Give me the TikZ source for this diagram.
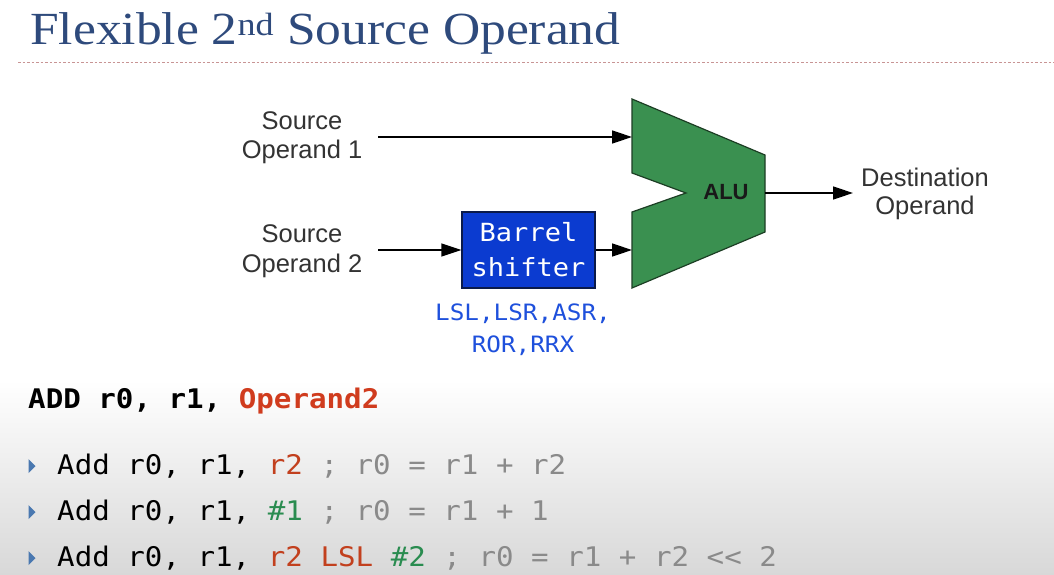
\documentclass[tikz,border=0pt]{standalone}
\usepackage{fontspec}
\setmainfont{Liberation Serif}
\setsansfont{Liberation Sans}
\newfontfamily\titlefont[FakeStretch=1.12]{Liberation Serif}
\newfontfamily\codefont[FakeStretch=1.08]{DejaVu Sans Mono}
\usetikzlibrary{arrows.meta}

\definecolor{titleblue}{HTML}{2E4A7C}
\definecolor{rulered}{HTML}{C89494}
\definecolor{labelgray}{HTML}{333333}
\definecolor{alugreen}{HTML}{3A9050}
\definecolor{aluedge}{HTML}{1C3E24}
\definecolor{shiftblue}{HTML}{0B3BD0}
\definecolor{shiftedge}{HTML}{0A1A4A}
\definecolor{opblue}{HTML}{1E50DC}
\definecolor{opred}{HTML}{D03C1E}
\definecolor{regred}{HTML}{C2401E}
\definecolor{immgreen}{HTML}{2A8C50}
\definecolor{commentgray}{HTML}{8A8A8A}
\definecolor{bulletblue}{HTML}{4A78B0}
\definecolor{shadegray}{HTML}{D8D8D8}

\begin{document}
\begin{tikzpicture}[x=1pt,y=-1pt,
  wire/.style={line width=1.4pt, -{Triangle[length=20pt,width=13pt]}},
  srclabel/.style={font=\sffamily\fontsize{25.5}{29.5}\selectfont, text=labelgray, align=center, inner sep=0pt},
  dstlabel/.style={font=\sffamily\fontsize{25.5}{28}\selectfont, text=labelgray, align=center, inner sep=0pt},
  shifterbox/.style={draw=shiftedge, line width=1.2pt, fill=shiftblue, text=white,
    minimum width=133pt, minimum height=76pt, inner sep=0pt, align=center,
    font=\codefont\fontsize{25}{35}\selectfont},
  oplist/.style={font=\codefont\fontsize{22.5}{32}\selectfont, text=opblue, align=center, inner sep=0pt},
  codeline/.style={anchor=base west, inner sep=0pt, font=\codefont\fontsize{27}{30}\selectfont},
  bullet/.style={fill=bulletblue},
]
\useasboundingbox (0,0) rectangle (1054,575);

% page background: white, fading to grey towards the bottom
\fill[white] (0,0) rectangle (1054,575);
\shade[top color=white, bottom color=shadegray] (0,380) rectangle (1054,575);

% title and dotted rule
\node[anchor=base west, inner sep=0pt, text=titleblue, font=\titlefont\fontsize{46}{50}\selectfont]
  (title) at (30,45) {Flexible 2\textsuperscript{nd} Source Operand};
\draw[rulered, line width=0.9pt, dash pattern=on 2.5pt off 2pt] (18,62) -- (1054,62);

% ALU outline
\coordinate (alu-tl) at (632,99);
\coordinate (alu-tr) at (765,155);
\coordinate (alu-br) at (765,232);
\coordinate (alu-bl) at (632,288);
\coordinate (alu-nb) at (632,212);
\coordinate (alu-tip) at (686,193);
\coordinate (alu-nt) at (632,173);
\fill[alugreen, draw=aluedge, line width=1.2pt, line join=miter]
  (alu-tl) -- (alu-tr) -- (alu-br) -- (alu-bl) -- (alu-nb) -- (alu-tip) -- (alu-nt) -- cycle;
\node[font=\sffamily\bfseries\fontsize{22}{24}\selectfont, text=black!90, inner sep=0pt]
  (alu) at (726,192) {ALU};

\coordinate (alu-in1) at (632,137);
\coordinate (alu-in2) at (632,250);
\coordinate (alu-out) at (765,193);

% inputs and output
\node[srclabel] (src1) at (302,137.5) {Source\\Operand 1};
\node[srclabel] (src2) at (302,251) {Source\\Operand 2};
\node[dstlabel] (dst) at (925,194) {Destination\\Operand};

\node[shifterbox] (shift) at (528.5,250) {Barrel\\shifter};
\node[oplist] (ops) at (523,329.5) {LSL,LSR,ASR,\\ROR,RRX};

\coordinate (src1-out) at (378,137);
\coordinate (src2-out) at (378,250);
\coordinate (dst-in) at (853,193);

\draw[wire] (src1-out) -- (alu-in1);
\draw[wire] (src2-out) -- (shift.west);
\draw[wire] (shift.east) -- (alu-in2);
\draw[wire] (alu-out) -- (dst-in);

% instruction syntax
\node[codeline, font=\codefont\bfseries\fontsize{27}{30}\selectfont] (syntax) at (28,408)
  {ADD r0, r1, \textcolor{opred}{Operand2}};

% examples
\node[codeline] (ex1) at (57,474)
  {Add r0, r1, \textcolor{regred}{r2} \textcolor{commentgray}{; r0 = r1 + r2}};
\node[codeline] (ex2) at (57,520)
  {Add r0, r1, \textcolor{immgreen}{\#1} \textcolor{commentgray}{; r0 = r1 + 1}};
\node[codeline] (ex3) at (57,566)
  {Add r0, r1, \textcolor{regred}{r2 LSL} \textcolor{immgreen}{\#2} \textcolor{commentgray}{; r0 = r1 + r2 <{}< 2}};

\foreach \y in {474,520,566}
  \fill[bullet] (28.5,\y-15) -- (35.5,\y-8) -- (28.5,\y-1) -- cycle;
\end{tikzpicture}
\end{document}
